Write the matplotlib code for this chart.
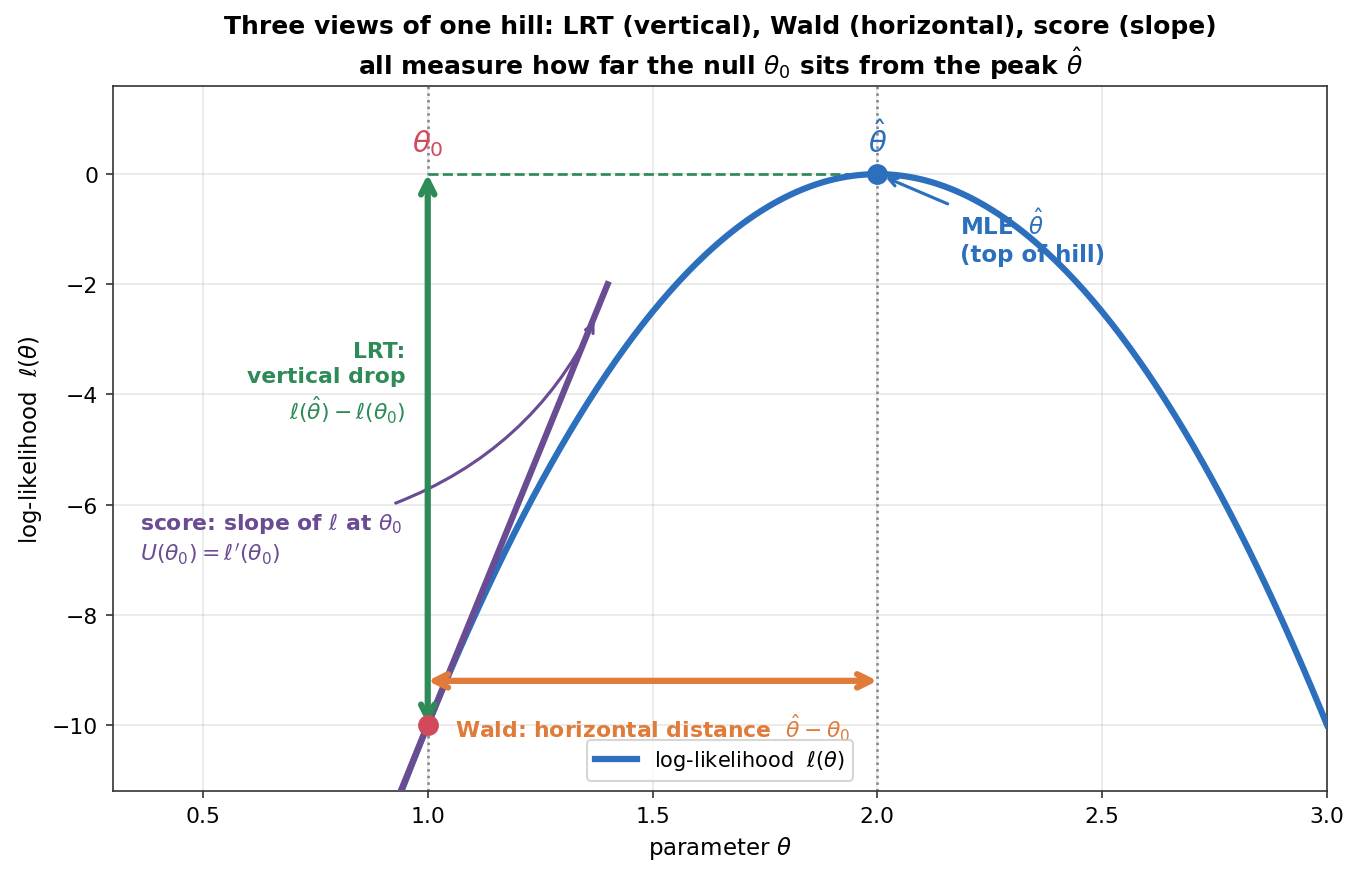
import numpy as np
import matplotlib
matplotlib.use("Agg")
import matplotlib.pyplot as plt

# hill parameters (quadratic log-likelihood)
theta_hat = 2.0
theta_0 = 1.0
curvature = 10.0          # l(theta) = -curvature * (theta - theta_hat)^2

theta_grid = np.linspace(0.3, 3.0, 400)
tangent_x = [0.9, 1.4]
wald_y = -9.2

BLUE = "#2b6fbd"
GREEN = "#2e8b57"
ORANGE = "#e07b39"
PURPLE = "#6a4c93"
RED = "#d1495b"


def loglik(t):
    return -curvature * (np.asarray(t) - theta_hat) ** 2


l0 = float(loglik(theta_0))
lhat = float(loglik(theta_hat))
slope0 = -2 * curvature * (theta_0 - theta_hat)

fig, ax = plt.subplots(figsize=(1360 / 150, 880 / 150), dpi=150)

ax.plot(theta_grid, loglik(theta_grid), color=BLUE, lw=3,
        label=r"log-likelihood  $\ell(\theta)$", zorder=3)

# tangent (score)
tx = np.array(tangent_x)
ax.plot(tx, l0 + slope0 * (tx - theta_0), color=PURPLE, lw=3, zorder=4)

# reference lines
ax.axvline(theta_0, color="#555566", ls=":", lw=1.2, alpha=0.8, zorder=1)
ax.axvline(theta_hat, color="#555566", ls=":", lw=1.2, alpha=0.8, zorder=1)
ax.plot([theta_0, theta_hat], [lhat, lhat], color=GREEN, ls="--", lw=1.3, zorder=2)

# LRT vertical arrow
ax.annotate("", xy=(theta_0, lhat), xytext=(theta_0, l0),
            arrowprops=dict(arrowstyle="<->", color=GREEN, lw=3,
                            shrinkA=0, shrinkB=0, mutation_scale=16), zorder=5)
ax.text(0.95, -3.8, "LRT:\nvertical drop\n" + r"$\ell(\hat{\theta}) - \ell(\theta_0)$",
        color=GREEN, fontsize=10.5, fontweight="bold", ha="right", va="center",
        linespacing=1.3)

# Wald horizontal arrow
ax.annotate("", xy=(theta_hat, wald_y), xytext=(theta_0, wald_y),
            arrowprops=dict(arrowstyle="<->", color=ORANGE, lw=3,
                            shrinkA=0, shrinkB=0, mutation_scale=16), zorder=5)
ax.text(1.06, -10.05, r"Wald: horizontal distance  $\hat{\theta} - \theta_0$",
        color=ORANGE, fontsize=10.5, fontweight="bold", ha="left", va="center")

# score annotation
ax.annotate("", xy=(1.375, -2.6), xytext=(0.92, -6.0),
            arrowprops=dict(arrowstyle="->", color=PURPLE, lw=1.5,
                            connectionstyle="arc3,rad=0.2"))
ax.text(0.36, -6.6, r"score: slope of $\ell$ at $\theta_0$" + "\n"
        + r"$U(\theta_0) = \ell'(\theta_0)$", color=PURPLE,
        fontsize=10.5, fontweight="bold", ha="left", va="center", linespacing=1.3)

# points
ax.plot(theta_0, l0, "o", color=RED, ms=9, zorder=6)
ax.plot(theta_hat, lhat, "o", color=BLUE, ms=9, zorder=6)
ax.text(theta_0, 0.3, r"$\theta_0$", color=RED, fontsize=14,
        ha="center", va="bottom")
ax.text(theta_hat, 0.3, r"$\hat{\theta}$", color=BLUE, fontsize=14,
        ha="center", va="bottom")

# MLE annotation
ax.annotate("", xy=(theta_hat + 0.01, -0.03), xytext=(2.165, -0.57),
            arrowprops=dict(arrowstyle="->", color=BLUE, lw=1.5))
ax.text(2.183, -0.63, "MLE  $\\hat{\\theta}$\n(top of hill)", color=BLUE,
        fontsize=11, fontweight="bold", ha="left", va="top")

ax.set_xlim(0.3, 3.0)
ax.set_ylim(-11.2, 1.6)
ax.set_xlabel(r"parameter $\theta$", fontsize=11)
ax.set_ylabel(r"log-likelihood  $\ell(\theta)$", fontsize=11)
ax.set_title("Three views of one hill: LRT (vertical), Wald (horizontal), score (slope)\n"
             r"all measure how far the null $\theta_0$ sits from the peak $\hat{\theta}$",
             fontsize=12, fontweight="bold")
ax.tick_params(labelsize=10.5, color="#333333")
for s in ax.spines.values():
    s.set_color("#333333")
ax.grid(True, alpha=0.3)
ax.legend(loc="lower center", fontsize=10)

fig.subplots_adjust(left=113 / 1360, right=1327 / 1360, top=1 - 87 / 880,
                    bottom=1 - 792 / 880)
fig.savefig("out.png", dpi=150)
